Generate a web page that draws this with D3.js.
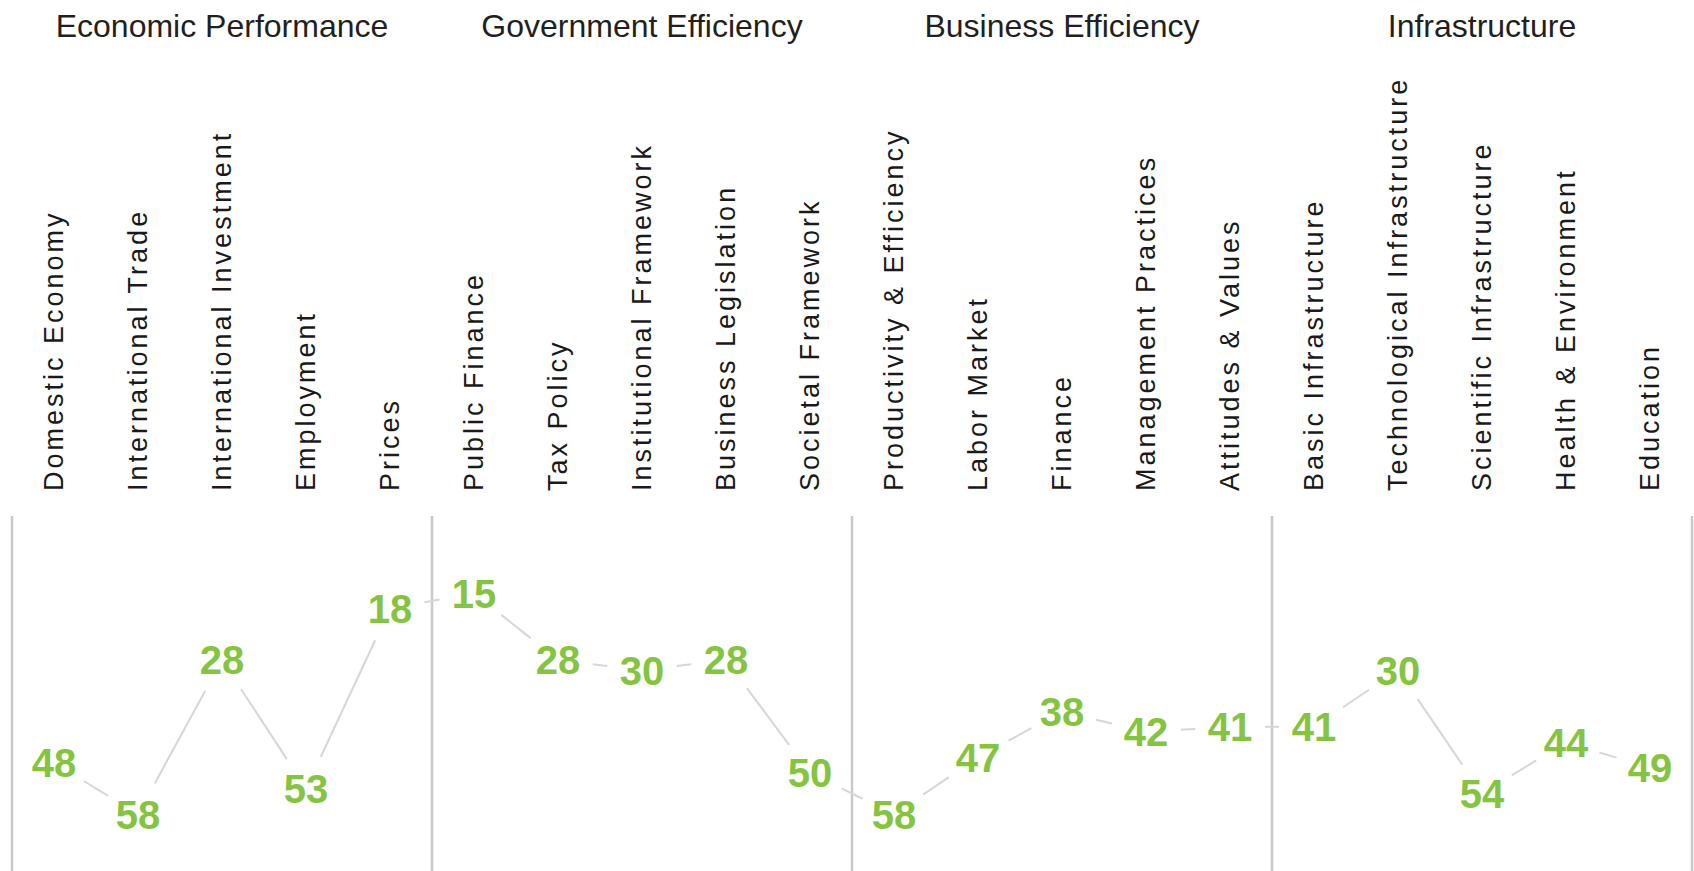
<!DOCTYPE html>
<html>
<head>
<meta charset="utf-8">
<script src="https://cdn.jsdelivr.net/npm/d3@7"></script>
<style>
  html, body { margin: 0; padding: 0; background: #fff; }
  svg { display: block; }
</style>
</head>
<body>
<svg id="chart" width="1694" height="871"></svg>
<script>
const groups = ["Economic Performance", "Government Efficiency", "Business Efficiency", "Infrastructure"];
const categories = [
  "Domestic Economy", "International Trade", "International Investment", "Employment", "Prices",
  "Public Finance", "Tax Policy", "Institutional Framework", "Business Legislation", "Societal Framework",
  "Productivity & Efficiency", "Labor Market", "Finance", "Management Practices", "Attitudes & Values",
  "Basic Infrastructure", "Technological Infrastructure", "Scientific Infrastructure", "Health & Environment", "Education"
];
const categoryGroup = [0,0,0,0,0, 1,1,1,1,1, 2,2,2,2,2, 3,3,3,3,3];
const ranks = [48, 58, 28, 53, 18, 15, 28, 30, 28, 50, 58, 47, 38, 42, 41, 41, 30, 54, 44, 49];

const svg = d3.select("#chart");
const x = d3.scaleBand().domain(categories).range([12, 1692]).padding(0);
const y = d3.scaleLinear().domain([0, 64]).range([516, 845]);
const bw = x.bandwidth();

// group separators
const boundaries = groups.map((g, gi) => x(categories[categoryGroup.indexOf(gi)])).concat([x.range()[1]]);
svg.append("g").selectAll("line").data(boundaries).join("line")
  .attr("x1", d => d).attr("x2", d => d)
  .attr("y1", y(0)).attr("y2", 871)
  .attr("stroke", "#c9c9c9").attr("stroke-width", 2.5);

// group titles
svg.append("g").selectAll("text").data(groups).join("text")
  .attr("x", (g, gi) => {
    const idx = categories.filter((c, i) => categoryGroup[i] === gi);
    return x(idx[0]) + idx.length * bw / 2;
  })
  .attr("y", 37)
  .attr("text-anchor", "middle")
  .attr("font-family", "'Liberation Sans', Arial, sans-serif")
  .attr("font-size", 32)
  .attr("fill", "#231f20")
  .text(d => d);

// category labels (rotated)
svg.append("g").selectAll("text").data(categories).join("text")
  .attr("transform", d => `translate(${x(d) + bw / 2 + 9},491) rotate(-90)`)
  .attr("text-anchor", "start")
  .attr("font-family", "'Liberation Sans', Arial, sans-serif")
  .attr("font-size", 27)
  .attr("letter-spacing", 3)
  .attr("fill", "#1a1a1a")
  .text(d => d);

// connecting lines, with gaps around the labels
const pts = categories.map((c, i) => ({ px: x(c) + bw / 2, py: y(ranks[i]) }));
const gap = 35;
const segs = d3.pairs(pts).map(([a, b]) => {
  const dx = b.px - a.px, dy = b.py - a.py;
  const len = Math.hypot(dx, dy);
  const ux = dx / len, uy = dy / len;
  return { x1: a.px + ux * gap, y1: a.py + uy * gap, x2: b.px - ux * gap, y2: b.py - uy * gap, ok: len > 2 * gap };
}).filter(s => s.ok);
svg.append("g").selectAll("line").data(segs).join("line")
  .attr("x1", d => d.x1).attr("y1", d => d.y1)
  .attr("x2", d => d.x2).attr("y2", d => d.y2)
  .attr("stroke", "#d6d6d6").attr("stroke-width", 2);

// value labels
svg.append("g").selectAll("text").data(ranks).join("text")
  .attr("x", (d, i) => x(categories[i]) + bw / 2)
  .attr("y", d => y(d))
  .attr("dy", "0.36em")
  .attr("text-anchor", "middle")
  .attr("font-family", "'Liberation Sans', Arial, sans-serif")
  .attr("font-weight", "bold")
  .attr("font-size", 40)
  .attr("fill", "#84c441")
  .text(d => d);
</script>
</body>
</html>
